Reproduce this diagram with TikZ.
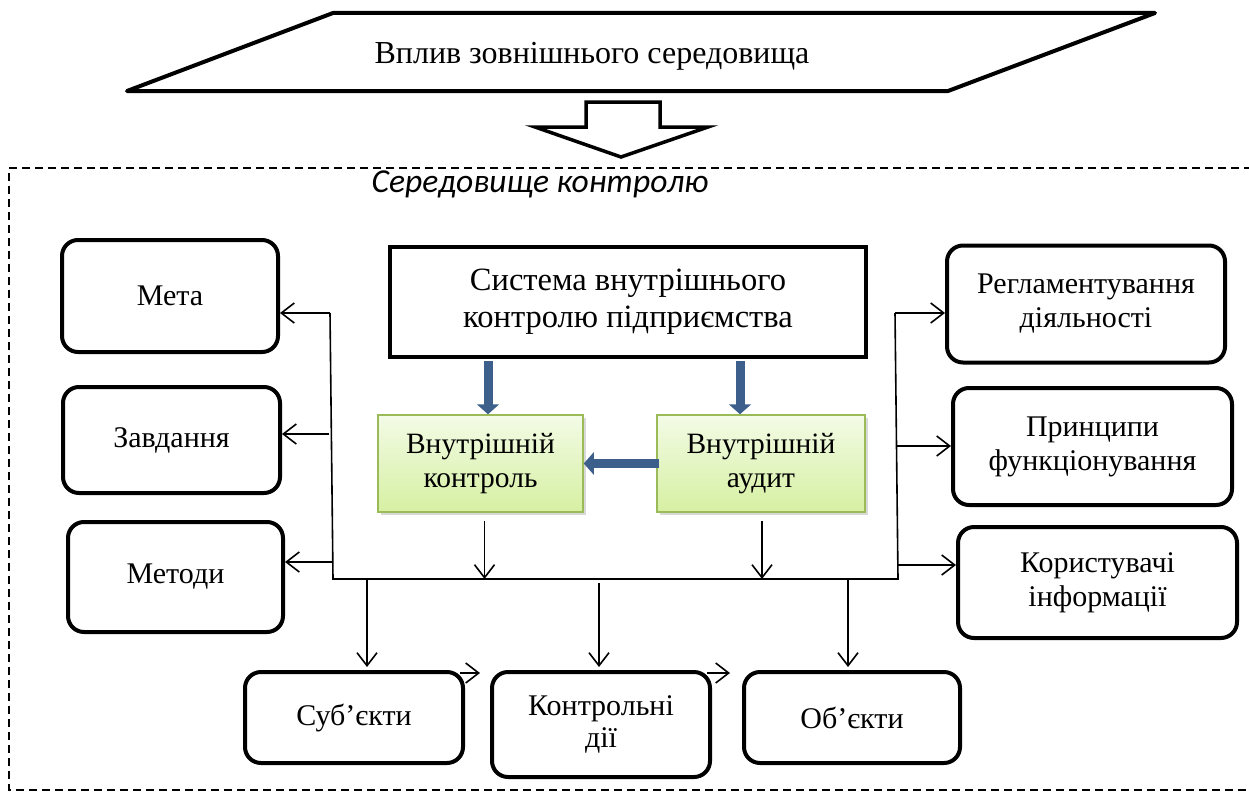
\documentclass[tikz,border=0pt]{standalone}
\usepackage{fontspec}
\setmainfont{Liberation Serif}
\newfontfamily\labelfont{Carlito}
\usetikzlibrary{arrows.meta,shadows}
\definecolor{gtop}{RGB}{243,251,230}
\definecolor{gbot}{RGB}{214,240,162}
\definecolor{gborder}{RGB}{155,187,89}
\definecolor{barrow}{RGB}{60,95,140}
\begin{document}
\begin{tikzpicture}[x=1pt,y=-1pt,
  rbox/.style={draw, line width=4pt, rounded corners=16pt, align=center, inner sep=0pt,
    font=\fontsize{30}{34}\selectfont},
  gbox/.style={draw=gborder, line width=1.5pt, top color=gtop, bottom color=gbot,
    align=center, inner sep=0pt, minimum width=205pt, minimum height=97pt,
    font=\fontsize{29.5}{34}\selectfont,
    drop shadow={shadow xshift=2.5pt, shadow yshift=-2.5pt, opacity=0.25, fill=black!60}},
  conn/.style={line width=1.6pt},
  arr/.style={line width=1.6pt, -{Straight Barb[length=13pt,width=20pt,line width=1.6pt]}},
  barr/.style={line width=9pt, draw=barrow, -{Triangle[length=10pt,width=22pt]}},
  frame/.style={line width=1.4pt, dash pattern=on 8pt off 5pt}
]
\useasboundingbox (0,0) rectangle (1249,792);

% external influence
\coordinate (p1) at (333,13);
\coordinate (p2) at (1155,13);
\coordinate (p3) at (948,91);
\coordinate (p4) at (127,91);
\draw[line width=4pt, line join=round] (p1) -- (p2) -- (p3) -- (p4) -- cycle;
\node[font=\fontsize{32}{36}\selectfont] (vplyv) at (592,56) {Вплив зовнішнього середовища};

% hollow arrow
\draw[line width=3.5pt, line join=miter]
  (586,102) -- (660,102) -- (660,127) -- (708,127) -- (621,157) -- (535,127) -- (586,127) -- cycle;

% control environment frame
\draw[frame] (1252,168) -- (9,168) -- (9,790) -- (1252,790);
\node[font=\labelfont\itshape\fontsize{33.5}{38}\selectfont] (sered) at (540,184) {Середовище контролю};

% central system
\node[draw, line width=4pt, minimum width=476pt, minimum height=110pt, align=center,
  inner sep=0pt, font=\fontsize{32.5}{37}\selectfont] (sys) at (628,302)
  {Система внутрішнього\\контролю підприємства};

\node[gbox] (ik) at (480.5,463.5) {Внутрішній\\контроль};
\node[gbox, minimum width=208pt] (ia) at (761,463.5) {Внутрішній\\аудит};

% left boxes
\node[rbox, minimum width=216pt, minimum height=112pt] (meta) at (170,296) {Мета};
\node[rbox, minimum width=217pt, minimum height=106pt] (zav) at (171.5,440) {Завдання};
\node[rbox, minimum width=215pt, minimum height=110pt] (met) at (175.5,577) {Методи};

% right boxes
\node[rbox, minimum width=278pt, minimum height=117pt] (reg) at (1086,304) {Регламентування\\діяльності};
\node[rbox, minimum width=279pt, minimum height=117pt] (pryn) at (1092.5,446.5) {Принципи\\функціонування};
\node[rbox, minimum width=279pt, minimum height=111pt] (kor) at (1097.5,582.5) {Користувачі\\інформації};

% bottom boxes
\node[rbox, minimum width=218pt, minimum height=91pt] (sub) at (354,717.5) {Суб’єкти};
\node[rbox, minimum width=218pt, minimum height=105pt, font=\fontsize{30}{32}\selectfont] (kd) at (601,724.5) {Контрольні\\дії};
\node[rbox, minimum width=216pt, minimum height=91pt] (ob) at (852,717.5) {Об’єкти};

% blue arrows
\coordinate (ba1) at (488,361);
\coordinate (ba2) at (740,361);
\draw[barr] (ba1) -- (ba1 |- ik.north);
\draw[barr] (ba2) -- (ba2 |- ia.north);
\draw[barr] ([xshift=3pt]ia.west) -- (ik.east);

% bus
\coordinate (lbtop) at (330,313);
\coordinate (lbbot) at (333,579);
\coordinate (rbbot) at (898,579);
\coordinate (rbtop) at (895,313);
\draw[conn, line join=miter] (lbtop) -- (lbbot) -- (rbbot) -- (rbtop);

% left arrows
\coordinate (l1) at (330,313);
\coordinate (l2) at (329,434);
\coordinate (l3) at (333,562);
\draw[arr] (l1) -- (l1 -| meta.east);
\draw[arr] (l2) -- (l2 -| zav.east);
\draw[arr] (l3) -- (l3 -| met.east);

% right arrows
\coordinate (r1) at (895,313);
\coordinate (r2) at (896,446);
\coordinate (r3) at (897,565);
\draw[arr] (r1) -- (r1 -| reg.west);
\draw[arr] (r2) -- (r2 -| pryn.west);
\draw[arr] (r3) -- (r3 -| kor.west);

% arrows from green boxes to bus
\path (ik.south) ++(4,8) coordinate (iks);
\path (ia.south) ++(1,8) coordinate (ias);
\draw[arr] (iks) -- (iks |- lbbot);
\draw[arr] (ias) -- (ias |- lbbot);

% arrows from bus to bottom boxes
\coordinate (b1) at (367,579);
\coordinate (b2) at (599,583);
\coordinate (b3) at (848,579);
\draw[arr, shorten >=3pt] (b1) -- (b1 |- sub.north);
\draw[arr, shorten >=3pt] (b2) -- (b2 |- kd.north);
\draw[arr, shorten >=3pt] (b3) -- (b3 |- ob.north);

% small arrows between bottom boxes
\path (sub.north east) ++(-5,3) coordinate (s1);
\path (kd.north east) ++(-5,3) coordinate (s2);
\draw[arr, shorten >=10pt] (s1) -- (s1 -| kd.west);
\draw[arr, shorten >=12pt] (s2) -- (s2 -| ob.west);
\end{tikzpicture}
\end{document}
